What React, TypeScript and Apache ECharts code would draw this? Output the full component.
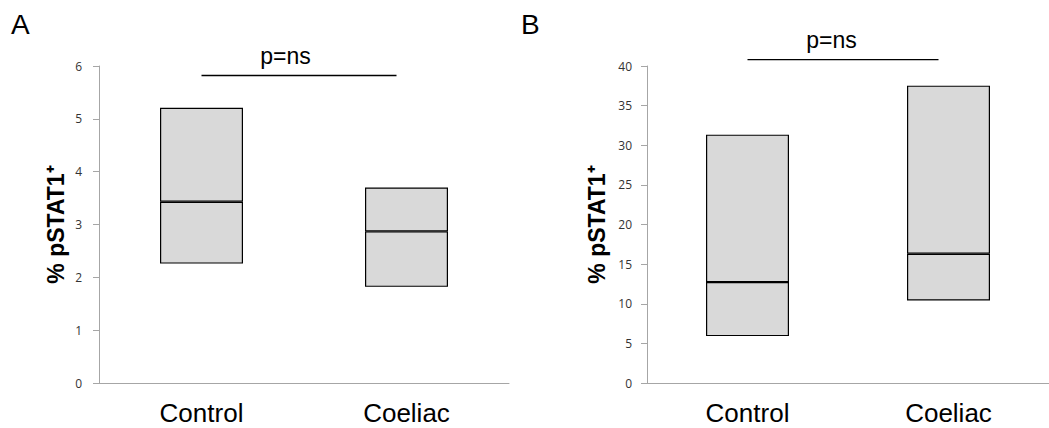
import React, { useEffect, useRef } from "react";
import * as echarts from "echarts";

const categories = ["Control", "Coeliac"];

// Panel A (% pSTAT1+): box bottom, median, top
const aLow = [2.26, 1.82];
const aMedian = [3.43, 2.87];
const aHigh = [5.21, 3.7];

// Panel B (% pSTAT1+): box bottom, median, top
const bLow = [5.92, 10.41];
const bMedian = [12.73, 16.3];
const bHigh = [31.34, 37.52];

const aAxis = { min: 0, max: 6, interval: 1 };
const bAxis = { min: 0, max: 40, interval: 5 };

const panelLetters = ["A", "B"];
const sigLabel = "p=ns";
const sigY = [5.82, 40.8];
const yTitle = "% pSTAT1\u207A";

const AXIS_GRAY = "#a6a6a6";
const BOX_FILL = "#d9d9d9";

function boxSeries(low: number[], med: number[], high: number[], idx: number, stack: string) {
  const lower = med.map((m, i) => +(m - low[i]).toFixed(4));
  const upper = high.map((h, i) => +(h - med[i]).toFixed(4));
  const common = {
    type: "bar",
    xAxisIndex: idx,
    yAxisIndex: idx,
    stack,
    barWidth: 83,
    silent: true,
  };
  return [
    { ...common, data: low, itemStyle: { color: "transparent", borderWidth: 0 } },
    { ...common, data: lower, itemStyle: { color: BOX_FILL, borderColor: "#000", borderWidth: 1.2 } },
    { ...common, data: upper, itemStyle: { color: BOX_FILL, borderColor: "#000", borderWidth: 1.2 } },
  ];
}

function yAxisCfg(gridIndex: number, ax: { min: number; max: number; interval: number }, labelMargin: number, nameGap: number) {
  return {
    type: "value",
    gridIndex,
    min: ax.min,
    max: ax.max,
    interval: ax.interval,
    name: yTitle,
    nameLocation: "middle",
    nameRotate: 90,
    nameGap,
    nameTextStyle: { fontFamily: "Liberation Sans, Arial", fontWeight: "bold", fontSize: 23, color: "#000" },
    axisLine: { show: true, lineStyle: { color: AXIS_GRAY, width: 1 } },
    axisTick: { show: true, length: 6, lineStyle: { color: AXIS_GRAY } },
    splitLine: { show: false },
    axisLabel: { fontFamily: "Open Sans", fontSize: 12, color: "#333", margin: labelMargin },
  };
}

function xAxisCfg(gridIndex: number) {
  return {
    type: "category",
    gridIndex,
    data: categories,
    axisLine: { show: true, lineStyle: { color: AXIS_GRAY, width: 1 } },
    axisTick: { show: false },
    axisLabel: { fontFamily: "Liberation Sans, Arial", fontSize: 26, color: "#000", margin: 17 },
  };
}

export default function App() {
  const ref = useRef<HTMLDivElement>(null);
  useEffect(() => {
    if (!ref.current) return;
    const chart = echarts.init(ref.current, null, { renderer: "svg" });
    chart.setOption({
      animation: false,
      backgroundColor: "#fff",
      grid: [
        { left: 99, top: 66, width: 410, height: 317 },
        { left: 647, top: 66, width: 410, height: 317 },
      ],
      xAxis: [xAxisCfg(0), xAxisCfg(1)],
      yAxis: [yAxisCfg(0, aAxis, 17, 32), yAxisCfg(1, bAxis, 15, 39)],
      series: [
        ...boxSeries(aLow, aMedian, aHigh, 0, "a"),
        ...boxSeries(bLow, bMedian, bHigh, 1, "b"),
      ],
    });

    const graphics: any[] = [];
    const letterX = [11, 521];
    panelLetters.forEach((l, i) => {
      graphics.push({
        type: "text",
        left: letterX[i],
        top: 10,
        style: { text: l, fontFamily: "Liberation Sans, Arial", fontSize: 28, fill: "#000" },
      });
    });
    for (let g = 0; g < 2; g++) {
      const p0 = chart.convertToPixel({ gridIndex: g } as any, [categories[0], sigY[g]]) as number[];
      const p1 = chart.convertToPixel({ gridIndex: g } as any, [categories[1], sigY[g]]) as number[];
      const x0 = p0[0];
      const x1 = p1[0] - 10;
      const y = p0[1];
      graphics.push({
        type: "line",
        shape: { x1: x0, y1: y, x2: x1, y2: y },
        style: { stroke: "#000", lineWidth: 1.3 },
      });
      graphics.push({
        type: "text",
        x: x0 + 84,
        y: y - 20,
        style: {
          text: sigLabel,
          fontFamily: "Liberation Sans, Arial",
          fontSize: 23,
          fill: "#000",
          align: "center",
          verticalAlign: "middle",
        },
      });
    }
    chart.setOption({ graphic: graphics });
    return () => chart.dispose();
  }, []);
  return (
    <div
      ref={ref}
      style={{ position: "absolute", left: 0, top: 0, width: 1049, height: 428 }}
    />
  );
}
